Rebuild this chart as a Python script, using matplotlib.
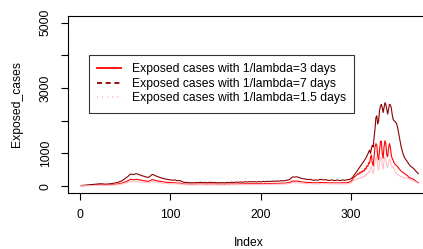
import numpy as np
import matplotlib
matplotlib.use('Agg')
import matplotlib.pyplot as plt
from matplotlib.lines import Line2D

plt.rcParams['font.family'] = ['Liberation Sans', 'DejaVu Sans']

# Exposed cases, 1/lambda = 3 days (red)
exposed_3 = [
    10, 12, 14, 15, 17, 18, 20, 21, 22, 23, 25, 26, 28, 29, 30, 32, 33, 34, 36, 37, 38, 40, 41, 38, 37,
    36, 34, 33, 34, 36, 37, 38, 40, 41, 44, 47, 50, 52, 55, 58, 60, 66, 72, 77, 83, 90, 99, 110, 121, 132,
    143, 154, 165, 182, 198, 210, 205, 200, 195, 200, 206, 210, 206, 200, 195, 190, 184, 179, 173, 168, 165, 160, 154, 151, 149,
    151, 160, 176, 190, 200, 195, 187, 179, 170, 165, 160, 154, 149, 143, 138, 132, 129, 127, 121, 118, 116, 113, 110, 107, 105,
    105, 102, 99, 102, 105, 99, 94, 91, 94, 96, 91, 83, 77, 72, 66, 63, 61, 62, 63, 61, 58, 55, 58, 61, 58,
    55, 58, 61, 63, 61, 58, 61, 63, 66, 63, 61, 58, 61, 63, 61, 58, 61, 63, 66, 63, 61, 58, 61, 63, 61,
    58, 55, 58, 61, 58, 55, 58, 61, 58, 55, 58, 61, 63, 61, 58, 61, 63, 66, 63, 61, 63, 66, 69, 66, 63,
    66, 69, 72, 69, 66, 69, 72, 74, 72, 69, 72, 74, 77, 74, 72, 74, 77, 74, 72, 69, 72, 74, 77, 74, 72,
    74, 77, 80, 77, 74, 77, 80, 83, 80, 77, 80, 83, 85, 83, 80, 83, 85, 88, 85, 83, 85, 88, 94, 91, 88,
    91, 94, 96, 99, 102, 105, 110, 121, 138, 149, 157, 154, 151, 154, 157, 154, 149, 143, 138, 132, 129, 127, 124, 121, 118,
    116, 113, 110, 113, 116, 110, 105, 102, 99, 102, 105, 102, 99, 102, 107, 116, 113, 110, 107, 105, 107, 110, 107, 102, 99,
    96, 99, 102, 105, 102, 96, 94, 96, 99, 102, 99, 96, 94, 96, 102, 105, 102, 96, 99, 105, 110, 113, 116, 130, 140,
    160, 200, 250, 280, 300, 320, 350, 380, 360, 420, 400, 450, 430, 480, 460, 550, 520, 620, 600, 720, 700, 880, 950, 700, 620,
    900, 1200, 1300, 1250, 900, 800, 1100, 1350, 1380, 1000, 850, 1200, 1390, 1300, 950, 900, 1150, 1300, 1200, 950, 850, 800, 720, 680, 650,
    620, 600, 560, 520, 490, 460, 440, 420, 400, 380, 360, 340, 320, 290, 260, 250, 240, 230, 220, 200, 180, 160, 140, 120, 110,
]

# Exposed cases, 1/lambda = 7 days (dark red)
exposed_7 = [
    20, 22, 25, 28, 30, 33, 35, 38, 40, 42, 45, 48, 50, 52, 55, 58, 60, 62, 65, 68, 70, 72, 75, 70, 68,
    65, 62, 60, 62, 65, 68, 70, 72, 75, 80, 85, 90, 95, 100, 105, 110, 120, 130, 140, 150, 165, 180, 200, 220, 240,
    260, 280, 300, 330, 360, 370, 365, 360, 355, 365, 375, 380, 375, 365, 355, 345, 335, 325, 315, 305, 300, 290, 280, 275, 270,
    275, 290, 320, 345, 355, 350, 340, 325, 310, 300, 290, 280, 270, 260, 250, 240, 235, 230, 220, 215, 210, 205, 200, 195, 190,
    190, 185, 180, 185, 190, 180, 170, 165, 170, 175, 165, 150, 140, 130, 120, 115, 110, 112, 115, 110, 105, 100, 105, 110, 105,
    100, 105, 110, 115, 110, 105, 110, 115, 120, 115, 110, 105, 110, 115, 110, 105, 110, 115, 120, 115, 110, 105, 110, 115, 110,
    105, 100, 105, 110, 105, 100, 105, 110, 105, 100, 105, 110, 115, 110, 105, 110, 115, 120, 115, 110, 115, 120, 125, 120, 115,
    120, 125, 130, 125, 120, 125, 130, 135, 130, 125, 130, 135, 140, 135, 130, 135, 140, 135, 130, 125, 130, 135, 140, 135, 130,
    135, 140, 145, 140, 135, 140, 145, 150, 145, 140, 145, 150, 155, 150, 145, 150, 155, 160, 155, 150, 155, 160, 170, 165, 160,
    165, 170, 175, 180, 185, 190, 200, 220, 250, 270, 285, 280, 275, 280, 285, 280, 270, 260, 250, 240, 235, 230, 225, 220, 215,
    210, 205, 200, 205, 210, 200, 190, 185, 180, 185, 190, 185, 180, 185, 195, 210, 205, 200, 195, 190, 195, 200, 195, 185, 180,
    175, 180, 185, 190, 185, 175, 170, 175, 180, 185, 180, 175, 170, 175, 185, 190, 185, 175, 180, 190, 195, 200, 205, 210, 220,
    240, 270, 300, 350, 380, 420, 460, 500, 540, 580, 620, 660, 700, 740, 780, 820, 870, 920, 980, 1050, 1100, 1000, 1150, 1250, 1200,
    1500, 1750, 2100, 2150, 1900, 2000, 2300, 2450, 2500, 2400, 2250, 2400, 2550, 2500, 2350, 2200, 2350, 2500, 2480, 2400, 2200, 2050, 2000, 1980, 1950,
    1900, 1800, 1650, 1500, 1350, 1200, 1100, 1000, 920, 860, 820, 780, 740, 700, 660, 620, 600, 580, 560, 530, 500, 470, 440, 410, 380,
]

# Exposed cases, 1/lambda = 1.5 days (pink)
exposed_15 = [
    8, 8, 9, 10, 11, 12, 13, 14, 15, 16, 17, 18, 19, 20, 21, 22, 23, 24, 25, 26, 27, 27, 28, 27, 26,
    25, 24, 23, 24, 25, 26, 27, 27, 28, 30, 32, 34, 36, 38, 40, 42, 46, 49, 53, 57, 63, 68, 76, 84, 91,
    99, 106, 114, 125, 137, 141, 139, 137, 135, 139, 142, 144, 142, 139, 135, 131, 127, 124, 120, 116, 114, 110, 106, 105, 103,
    105, 110, 122, 131, 135, 133, 129, 124, 118, 114, 110, 106, 103, 99, 95, 91, 89, 87, 84, 82, 80, 78, 76, 74, 72,
    72, 70, 68, 70, 72, 68, 65, 63, 65, 67, 63, 57, 53, 49, 46, 44, 42, 43, 44, 42, 40, 38, 40, 42, 40,
    38, 40, 42, 44, 42, 40, 42, 44, 46, 44, 42, 40, 42, 44, 42, 40, 42, 44, 46, 44, 42, 40, 42, 44, 42,
    40, 38, 40, 42, 40, 38, 40, 42, 40, 38, 40, 42, 44, 42, 40, 42, 44, 46, 44, 42, 44, 46, 48, 46, 44,
    46, 48, 49, 48, 46, 48, 49, 51, 49, 48, 49, 51, 53, 51, 49, 51, 53, 51, 49, 48, 49, 51, 53, 51, 49,
    51, 53, 55, 53, 51, 53, 55, 57, 55, 53, 55, 57, 59, 57, 55, 57, 59, 61, 59, 57, 59, 61, 65, 63, 61,
    63, 65, 67, 68, 70, 72, 76, 84, 95, 103, 108, 106, 105, 106, 108, 106, 103, 99, 95, 91, 89, 87, 86, 84, 82,
    80, 78, 76, 78, 80, 76, 72, 70, 68, 70, 72, 70, 68, 70, 74, 80, 78, 76, 74, 72, 74, 76, 74, 70, 68,
    67, 68, 70, 72, 70, 67, 65, 67, 68, 70, 68, 67, 65, 67, 70, 72, 70, 67, 68, 72, 76, 78, 80, 90, 100,
    110, 130, 160, 180, 190, 200, 220, 240, 220, 260, 240, 280, 260, 300, 280, 350, 320, 400, 380, 450, 420, 560, 600, 450, 380,
    550, 750, 850, 900, 650, 480, 700, 860, 880, 650, 520, 760, 890, 850, 620, 560, 720, 830, 800, 620, 580, 600, 520, 450, 400,
    380, 360, 340, 320, 300, 290, 280, 270, 260, 255, 250, 245, 240, 230, 220, 210, 195, 185, 175, 160, 145, 130, 120, 100, 80,
]

labels = ['Exposed cases with 1/lambda=3 days',
          'Exposed cases with 1/lambda=7 days',
          'Exposed cases with 1/lambda=1.5 days']
colors = ['#FF0000', '#8B0000', '#FFC0CB']

fs = 8.7
fig = plt.figure(figsize=(4.23, 2.49), dpi=100)
W, H = 423, 249
ax = fig.add_axes([67.7 / W, 1 - 192.7 / H, 365 / W, 176.7 / H])

lw = 0.8
ax.plot(np.arange(1, len(exposed_3) + 1), exposed_3, color=colors[0], lw=lw)
ax.plot(np.arange(1, len(exposed_7) + 1), exposed_7, color=colors[1], lw=lw)
ax.plot(np.arange(1, len(exposed_15) + 1), exposed_15, color=colors[2], lw=lw)

ax.set_xlim(-14, 391)
ax.set_ylim(-200, 5200)
ax.set_xticks([0, 100, 200, 300])
ax.set_yticks([0, 1000, 2000, 3000, 4000, 5000])
ax.set_yticklabels(['0', '1000', '', '3000', '', '5000'], rotation=90, va='center')
ax.tick_params(direction='out', length=5, width=0.8, labelsize=fs, pad=6.5, colors='black')
for s in ax.spines.values():
    s.set_linewidth(0.8)

fig.text(249 / W, 1 - 242.5 / H, 'Index', ha='center', va='center', fontsize=fs)
fig.text(17.5 / W, 1 - 104 / H, 'Exposed_cases', ha='center', va='center', rotation=90, fontsize=fs)

hlw = 1.3
handles = [
    Line2D([], [], color=colors[0], lw=hlw),
    Line2D([], [], color=colors[1], lw=hlw, dashes=(2.8, 2.0)),
    Line2D([], [], color=colors[2], lw=hlw, dashes=(0.6, 2.2)),
]
leg = ax.legend(handles, labels, loc='upper left',
                bbox_to_anchor=((89 - 67.7) / 365, (192.7 - 55) / 176.7),
                fontsize=fs, frameon=True, fancybox=False, borderaxespad=0,
                borderpad=0.7, labelspacing=0.2, handlelength=1.95, handletextpad=0.9)
leg.get_frame().set_edgecolor('black')
leg.get_frame().set_linewidth(0.8)

fig.savefig('out.png', dpi=100)
